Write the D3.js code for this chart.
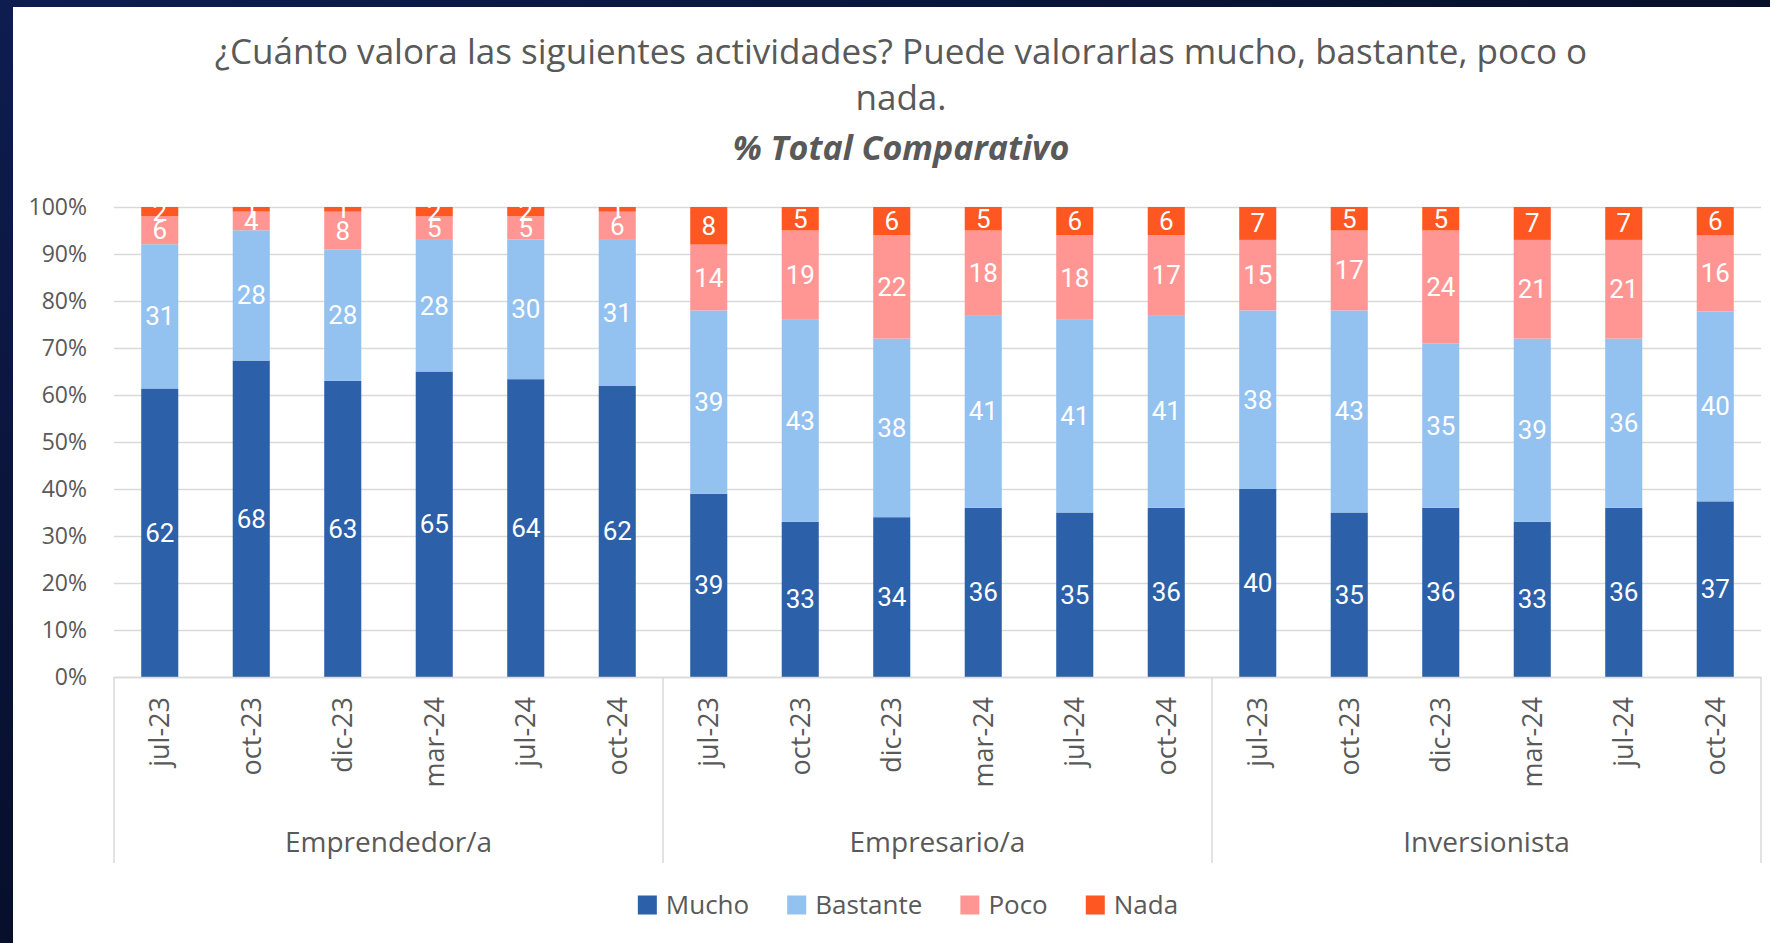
<!DOCTYPE html>
<html>
<head>
<meta charset="utf-8">
<script src="https://cdn.jsdelivr.net/npm/d3@7"></script>
<style>
  body { margin: 0; background: #050a1c; overflow: hidden; }
</style>
</head>
<body>
<div class="visHolder"></div>
<script>
const groups = ["Emprendedor/a", "Empresario/a", "Inversionista"];
const periods = ["jul-23", "oct-23", "dic-23", "mar-24", "jul-24", "oct-24"];
const series = ["Mucho", "Bastante", "Poco", "Nada"];

// one value per bar, groups in order, periods in order inside each group
const mucho = [62, 68, 63, 65, 64, 62, 39, 33, 34, 36, 35, 36, 40, 35, 36, 33, 36, 37];
const bastante = [31, 28, 28, 28, 30, 31, 39, 43, 38, 41, 41, 41, 38, 43, 35, 39, 36, 40];
const poco = [6, 4, 8, 5, 5, 6, 14, 19, 22, 18, 18, 17, 15, 17, 24, 21, 21, 16];
const nada = [2, 1, 1, 2, 2, 1, 8, 5, 6, 5, 6, 6, 7, 5, 5, 7, 7, 6];

const yTickValues = [0, 0.1, 0.2, 0.3, 0.4, 0.5, 0.6, 0.7, 0.8, 0.9, 1];
const yTickLabels = ["0%", "10%", "20%", "30%", "40%", "50%", "60%", "70%", "80%", "90%", "100%"];

const titleLines = [
  "¿Cuánto valora las siguientes actividades? Puede valorarlas mucho, bastante, poco o",
  "nada."
];
const subtitle = "% Total Comparativo";

let width = 1770;
let height = 943;
let font = "'Open Sans', 'Noto Sans', sans-serif";
let textColor = "#595959";
let gridColor = "#d9d9d9";

let color = d3.scaleOrdinal()
  .domain(series)
  .range(["#2c60a9", "#93c1f0", "#ff9694", "#ff5722"]);

let svg = d3.select(".visHolder")
  .append("svg")
  .attr("width", width)
  .attr("height", height)
  .style("display", "block");

// dark backdrop peeking out at top and left
let grad = svg.append("defs").append("linearGradient")
  .attr("id", "bg")
  .attr("x1", 0).attr("y1", 0).attr("x2", 1).attr("y2", 1);
grad.append("stop").attr("offset", "0%").attr("stop-color", "#0e1d4f");
grad.append("stop").attr("offset", "45%").attr("stop-color", "#07102e");
grad.append("stop").attr("offset", "100%").attr("stop-color", "#010208");

svg.append("rect").attr("width", width).attr("height", height).attr("fill", "url(#bg)");
svg.append("rect")
  .attr("x", 13).attr("y", 7)
  .attr("width", width - 13).attr("height", height - 7)
  .attr("fill", "#fff");

// title
let t1 = svg.append("text")
  .attr("x", 901).attr("y", 64)
  .attr("text-anchor", "middle")
  .attr("fill", textColor)
  .style("font-family", font)
  .style("font-size", "30px")
  .text(titleLines[0]);
let fitSize = 30 * 1373 / t1.node().getComputedTextLength();
t1.style("font-size", fitSize + "px");

svg.append("text")
  .attr("x", 901).attr("y", 110)
  .attr("text-anchor", "middle")
  .attr("fill", textColor)
  .style("font-family", font)
  .style("font-size", fitSize + "px")
  .text(titleLines[1]);

let t3 = svg.append("text")
  .attr("x", 901).attr("y", 160)
  .attr("text-anchor", "middle")
  .attr("fill", textColor)
  .style("font-family", font)
  .style("font-weight", "bold")
  .style("font-style", "italic")
  .style("font-size", "30px")
  .text(subtitle);
t3.style("font-size", Math.min(34, 30 * 342 / t3.node().getComputedTextLength()) + "px");

// scales
let plotLeft = 114, plotRight = 1761, plotTop = 207, plotBottom = 677;

let keys = [];
groups.forEach((g) => periods.forEach((p) => keys.push(g + "|" + p)));

let x = d3.scaleBand()
  .domain(keys)
  .range([plotLeft, plotRight])
  .paddingInner(0.595)
  .paddingOuter(0.2975);

let y = d3.scaleLinear().domain([0, 1]).range([plotBottom, plotTop]);

// y axis with gridlines
let yAxis = d3.axisLeft(y)
  .tickValues(yTickValues)
  .tickFormat((d, i) => yTickLabels[i])
  .tickSize(-(plotRight - plotLeft))
  .tickPadding(27);

let yg = svg.append("g")
  .attr("transform", "translate(" + plotLeft + ",0)")
  .call(yAxis);
yg.select(".domain").remove();
yg.selectAll("line").attr("stroke", gridColor).attr("stroke-width", 1.5);
yg.selectAll("text")
  .attr("fill", textColor)
  .style("font-family", font)
  .style("font-size", "23px");

// stacked 100% bars
let table = keys.map((k, i) => ({
  key: k,
  Mucho: mucho[i],
  Bastante: bastante[i],
  Poco: poco[i],
  Nada: nada[i]
}));

let stacked = d3.stack().keys(series).offset(d3.stackOffsetExpand)(table);

svg.append("g")
  .selectAll("g")
  .data(stacked)
  .join("g")
  .attr("fill", (d) => color(d.key))
  .selectAll("rect")
  .data((d) => d)
  .join("rect")
  .attr("x", (d) => x(d.data.key))
  .attr("y", (d) => y(d[1]))
  .attr("width", x.bandwidth())
  .attr("height", (d) => y(d[0]) - y(d[1]));

svg.append("g")
  .selectAll("g")
  .data(stacked)
  .join("g")
  .selectAll("text")
  .data((s) => s.map((v) => ({ v: v, key: s.key })))
  .join("text")
  .attr("x", (d) => x(d.v.data.key) + x.bandwidth() / 2)
  .attr("y", (d) => (y(d.v[0]) + y(d.v[1])) / 2)
  .attr("text-anchor", "middle")
  .attr("dominant-baseline", "central")
  .attr("fill", "#fff")
  .style("font-family", "Roboto, 'Open Sans', sans-serif")
  .style("font-size", "26px")
  .text((d) => d.v.data[d.key]);

// x axis: periods rotated
let xAxis = d3.axisBottom(x)
  .tickSize(0)
  .tickSizeOuter(0)
  .tickFormat((k) => k.split("|")[1]);

let xg = svg.append("g")
  .attr("transform", "translate(0," + plotBottom + ")")
  .call(xAxis);
xg.select(".domain").attr("stroke", gridColor).attr("stroke-width", 1.5);
xg.selectAll("text")
  .attr("transform", "rotate(-90)")
  .attr("text-anchor", "end")
  .attr("x", -20)
  .attr("y", 0)
  .attr("dy", "0.35em")
  .attr("fill", textColor)
  .style("font-family", font)
  .style("font-size", "27px");

// group separators and group names
let groupSpan = periods.length * x.step();

svg.append("g")
  .selectAll("line")
  .data(d3.range(groups.length + 1))
  .join("line")
  .attr("x1", (i) => plotLeft + i * groupSpan)
  .attr("x2", (i) => plotLeft + i * groupSpan)
  .attr("y1", plotBottom)
  .attr("y2", 863)
  .attr("stroke", gridColor)
  .attr("stroke-width", 1.5);

svg.append("g")
  .selectAll("text")
  .data(groups)
  .join("text")
  .attr("x", (d, i) => plotLeft + (i + 0.5) * groupSpan)
  .attr("y", 852)
  .attr("text-anchor", "middle")
  .attr("fill", textColor)
  .style("font-family", font)
  .style("font-size", "28px")
  .text((d) => d);

// legend
let legend = svg.append("g");
let lx = 0;
series.forEach(function (s) {
  legend.append("rect")
    .attr("x", lx).attr("y", -9.5)
    .attr("width", 19).attr("height", 19)
    .attr("fill", color(s));
  let t = legend.append("text")
    .attr("x", lx + 28)
    .attr("y", 9)
    .attr("fill", textColor)
    .style("font-family", font)
    .style("font-size", "26px")
    .text(s);
  lx += 28 + t.node().getComputedTextLength() + 38;
});
let legendWidth = lx - 38;
legend.attr("transform", "translate(" + (908 - legendWidth / 2) + ",905)");
</script>
</body>
</html>
